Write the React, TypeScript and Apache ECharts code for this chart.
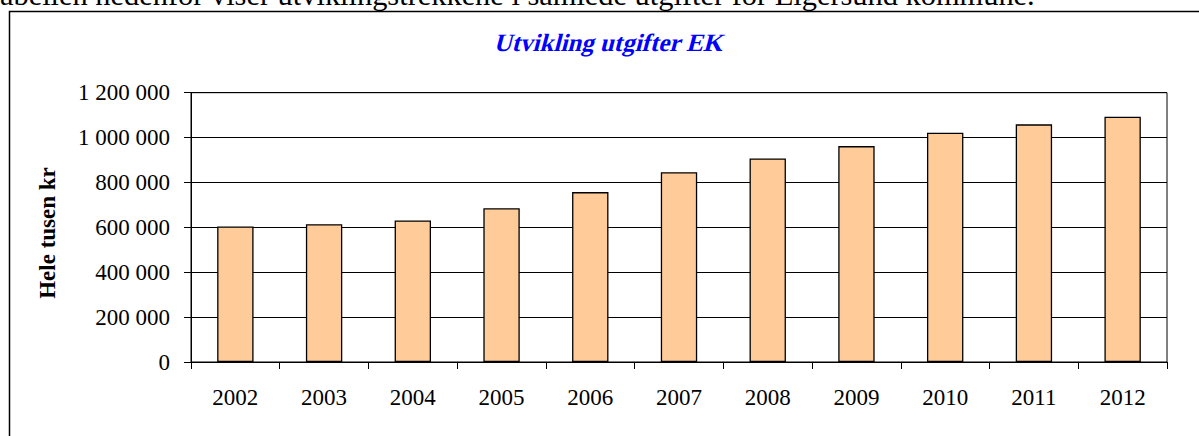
import React, { useEffect, useRef } from "react";
import * as echarts from "echarts";

const years = ["2002", "2003", "2004", "2005", "2006", "2007", "2008", "2009", "2010", "2011", "2012"];
const expenses = [604000, 614000, 631000, 685000, 757000, 846000, 907000, 962000, 1022000, 1059000, 1093000];
const yTicks = [0, 200000, 400000, 600000, 800000, 1000000, 1200000];
const titleText = "Utvikling utgifter EK";
const yAxisTitle = "Hele tusen kr";
const introText = "abellen nedenfor viser utviklingstrekkene i samlede utgifter for Eigersund kommune.";

const SERIF = "Liberation Serif";

function fmt(v: number): string {
  return String(v).replace(/\B(?=(\d{3})+(?!\d))/g, " ");
}

export default function App() {
  const ref = useRef<HTMLDivElement>(null);
  useEffect(() => {
    if (!ref.current) return;
    const chart = echarts.init(ref.current, undefined, { renderer: "svg" });
    chart.setOption({
      animation: false,
      backgroundColor: "#ffffff",
      graphic: [
        {
          type: "text",
          x: 0,
          y: -5,
          style: {
            text: introText,
            fontFamily: SERIF,
            fontSize: 30.4,
            fill: "#000",
            textAlign: "left",
            textVerticalAlign: "middle",
          },
        },
        {
          type: "rect",
          shape: { x: 9.5, y: 11.5, width: 1300, height: 500 },
          style: { fill: "none", stroke: "#000", lineWidth: 1.5 },
        },
        {
          type: "text",
          x: 610,
          y: 43,
          skewX: -0.26,
          style: {
            text: titleText,
            fontFamily: SERIF,
            fontWeight: "bold",
            fontSize: 25,
            fill: "#0000ff",
            textAlign: "center",
            textVerticalAlign: "middle",
          },
        },
        {
          type: "text",
          x: 47,
          y: 233,
          rotation: Math.PI / 2,
          style: {
            text: yAxisTitle,
            fontFamily: SERIF,
            fontWeight: "bold",
            fontSize: 23,
            fill: "#000",
            textAlign: "center",
            textVerticalAlign: "middle",
          },
        },
      ],
      grid: {
        left: 191,
        right: 32,
        top: 92.7,
        bottom: 74,
        show: true,
        borderColor: "#000",
        borderWidth: 1,
        backgroundColor: "transparent",
      },
      xAxis: {
        type: "category",
        data: years,
        boundaryGap: true,
        axisLine: { show: true, lineStyle: { color: "#000", width: 1 } },
        axisTick: { show: true, inside: false, length: 7, alignWithLabel: false, lineStyle: { color: "#000" } },
        axisLabel: {
          color: "#000",
          fontFamily: SERIF,
          fontSize: 23,
          margin: 24,
          interval: 0,
        },
        splitLine: { show: false },
      },
      yAxis: {
        type: "value",
        min: yTicks[0],
        max: yTicks[yTicks.length - 1],
        interval: yTicks[1] - yTicks[0],
        axisLine: { show: true, lineStyle: { color: "#000", width: 1 } },
        axisTick: { show: true, inside: false, length: 7, lineStyle: { color: "#000" } },
        axisLabel: {
          color: "#000",
          fontFamily: SERIF,
          fontSize: 23,
          margin: 21,
          formatter: (v: number) => fmt(v),
        },
        splitLine: { show: true, lineStyle: { color: "#000", width: 1, type: "solid" } },
      },
      series: [
        {
          type: "bar",
          data: expenses,
          barCategoryGap: "59%",
          itemStyle: { color: "#FFCC99", borderColor: "#000", borderWidth: 1.3 },
        },
      ],
    });
    return () => chart.dispose();
  }, []);
  return (
    <div
      ref={ref}
      style={{ position: "fixed", left: 0, top: 0, width: 1199, height: 436, background: "#fff" }}
    />
  );
}
